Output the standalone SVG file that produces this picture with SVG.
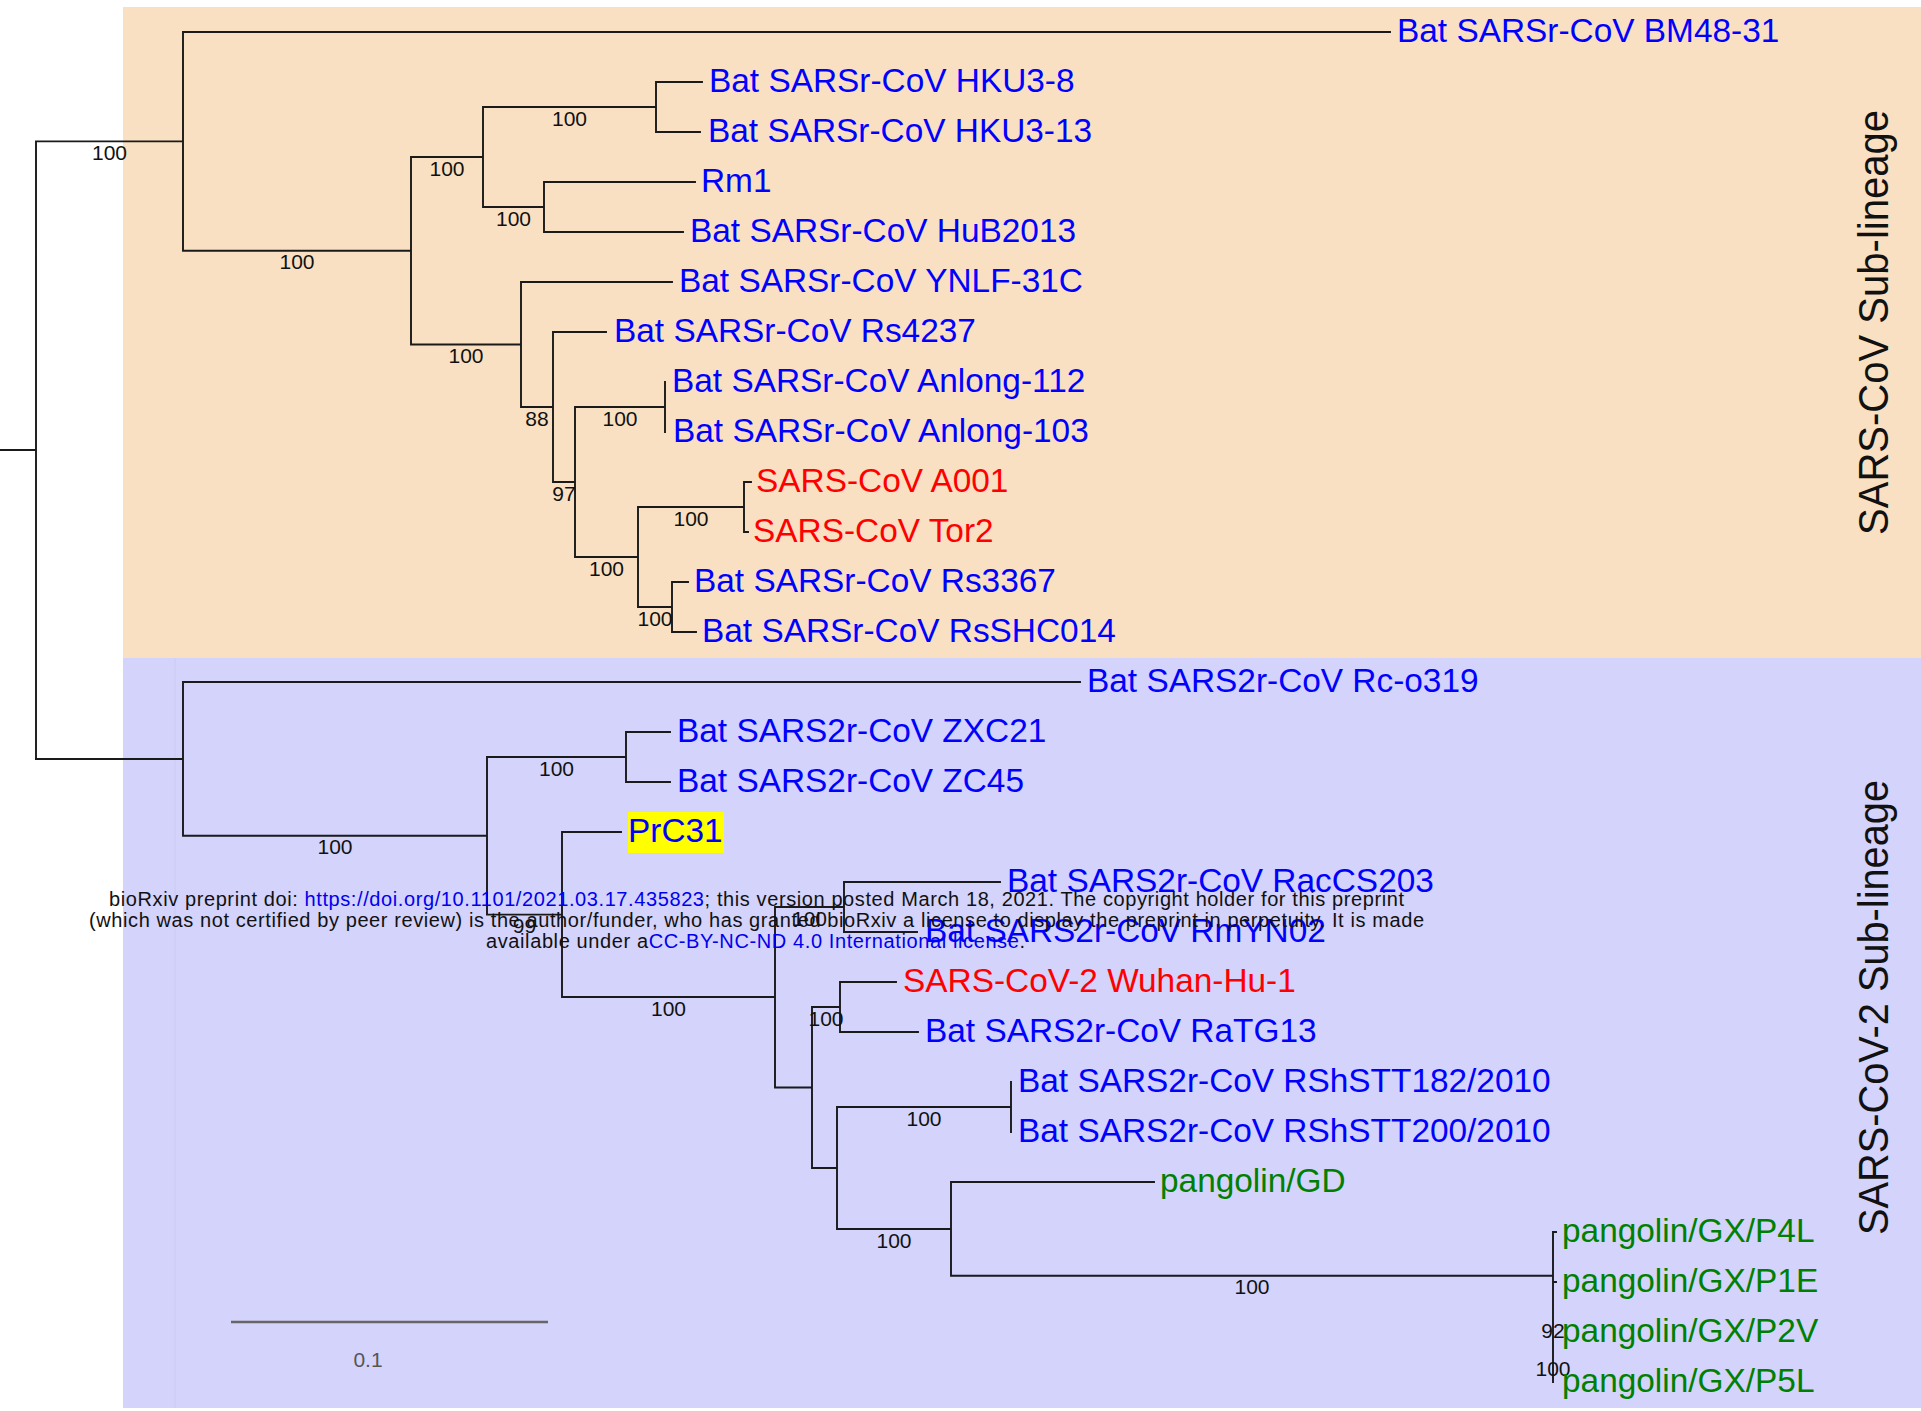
<svg xmlns="http://www.w3.org/2000/svg" width="1921" height="1411" viewBox="0 0 1921 1411">
<style>
.br{fill:none;stroke:#1a1a1a;stroke-width:1.9;stroke-linecap:square}
.lf{font-family:"Liberation Sans",Arial,sans-serif;font-size:33.4px}
.b{fill:#0000ff}.r{fill:#ff0000}.g{fill:#008000}
.bs{font-family:"Liberation Sans",Arial,sans-serif;font-size:21px;fill:#111;text-anchor:middle}
.side{font-family:"Liberation Sans",Arial,sans-serif;font-size:43px;fill:#111;text-anchor:middle}
.wm{font-family:"Liberation Sans",Arial,sans-serif;font-size:20px;fill:#111;text-anchor:middle}
.lk{fill:#0000ee}
</style>
<rect width="1921" height="1411" fill="#ffffff"/>
<g id="bg">
<rect x="123" y="7" width="1798" height="651" fill="#f9e0c2"/>
<rect x="123" y="658" width="1798" height="750" fill="#d3d3fb"/>
<line x1="175" y1="658" x2="175" y2="1408" stroke="#cacaf4" stroke-width="1"/>
</g>
<g id="connectors" class="br">
<path d="M0,450H36M36,141.4V759M36,141.4H183M183,32V250.75M183,32H1390M183,250.75H411M411,157V344.5M411,157H483M483,107V207M483,107H656M656,82V132M656,82H702M656,132H700M483,207H544M544,182V232M544,182H695M544,232H683M411,344.5H521M521,282V407M521,282H672M521,407H553M553,332V482M553,332H606M553,482H575M575,407V557M575,407H665M665,382V432M575,557H638M638,507V607M638,507H744M744,482V532M744,482H751M744,532H748M638,607H672M672,582V632M672,582H688M672,632H696"/>
<path d="M36,759H183M183,682V835.8M183,682H1080M183,835.8H487M487,757V914.6M487,757H626M626,732V782M626,732H670M626,782H670M487,914.6H562M562,832V997M562,832H621M562,997H775M775,907V1087.5M775,907H844M844,882V932M844,882H1000M844,932H917M775,1087.5H812M812,1007V1168M812,1007H840M840,982V1032M840,982H896M840,1032H918M812,1168H837M837,1107V1229M837,1107H1011M1011,1082V1132M837,1229H951M951,1182V1275.75M951,1182H1154M951,1275.75H1553M1553,1232V1382M1553,1232H1556M1553,1282H1556"/>
</g>
<g id="bootstrap">
<text class="bs" x="109.5" y="160">100</text>
<text class="bs" x="297" y="269">100</text>
<text class="bs" x="447" y="175.5">100</text>
<text class="bs" x="569.5" y="125.5">100</text>
<text class="bs" x="513.5" y="225.5">100</text>
<text class="bs" x="466" y="363">100</text>
<text class="bs" x="537" y="425.5">88</text>
<text class="bs" x="564" y="500.5">97</text>
<text class="bs" x="620" y="425.5">100</text>
<text class="bs" x="606.5" y="575.5">100</text>
<text class="bs" x="691" y="525.5">100</text>
<text class="bs" x="655" y="625.5">100</text>
<text class="bs" x="335" y="854.3">100</text>
<text class="bs" x="556.5" y="775.5">100</text>
<text class="bs" x="524.5" y="933">99</text>
<text class="bs" x="668.5" y="1015.5">100</text>
<text class="bs" x="809.5" y="925.5">100</text>
<text class="bs" x="826" y="1025.5">100</text>
<text class="bs" x="924" y="1125.5">100</text>
<text class="bs" x="894" y="1247.5">100</text>
<text class="bs" x="1252" y="1294">100</text>
<text class="bs" x="1553" y="1338">92</text>
<text class="bs" x="1553" y="1375.5">100</text>
</g>
<g id="n-BM48-31"><text class="lf b" x="1397" y="41.5">Bat SARSr-CoV BM48-31</text></g>
<g id="n-HKU3-8"><text class="lf b" x="709" y="91.5">Bat SARSr-CoV HKU3-8</text></g>
<g id="n-HKU3-13"><text class="lf b" x="708" y="141.5">Bat SARSr-CoV HKU3-13</text></g>
<g id="n-Rm1"><text class="lf b" x="701" y="191.5">Rm1</text></g>
<g id="n-HuB2013"><text class="lf b" x="690" y="241.5">Bat SARSr-CoV HuB2013</text></g>
<g id="n-YNLF-31C"><text class="lf b" x="679" y="291.5">Bat SARSr-CoV YNLF-31C</text></g>
<g id="n-Rs4237"><text class="lf b" x="614" y="341.5">Bat SARSr-CoV Rs4237</text></g>
<g id="n-Anlong-112"><text class="lf b" x="672" y="391.5">Bat SARSr-CoV Anlong-112</text></g>
<g id="n-Anlong-103"><text class="lf b" x="673" y="441.5">Bat SARSr-CoV Anlong-103</text></g>
<g id="n-A001"><text class="lf r" x="756" y="491.5">SARS-CoV A001</text></g>
<g id="n-Tor2"><text class="lf r" x="753" y="541.5">SARS-CoV Tor2</text></g>
<g id="n-Rs3367"><text class="lf b" x="694" y="591.5">Bat SARSr-CoV Rs3367</text></g>
<g id="n-RsSHC014"><text class="lf b" x="702" y="641.5">Bat SARSr-CoV RsSHC014</text></g>
<g id="n-Rc-o319"><text class="lf b" x="1087" y="691.5">Bat SARS2r-CoV Rc-o319</text></g>
<g id="n-ZXC21"><text class="lf b" x="677" y="741.5">Bat SARS2r-CoV ZXC21</text></g>
<g id="n-ZC45"><text class="lf b" x="677" y="791.5">Bat SARS2r-CoV ZC45</text></g>
<g id="n-PrC31"><rect x="628" y="812" width="96" height="41" fill="#ffff00"/><text class="lf b" x="628" y="841.5">PrC31</text></g>
<g id="n-RacCS203"><text class="lf b" x="1007" y="891.5">Bat SARS2r-CoV RacCS203</text></g>
<g id="n-RmYN02"><text class="lf b" x="925" y="941.5">Bat SARS2r-CoV RmYN02</text></g>
<g id="n-Wuhan-Hu-1"><text class="lf r" x="903" y="991.5">SARS-CoV-2 Wuhan-Hu-1</text></g>
<g id="n-RaTG13"><text class="lf b" x="925" y="1041.5">Bat SARS2r-CoV RaTG13</text></g>
<g id="n-RShSTT182"><text class="lf b" x="1018" y="1091.5">Bat SARS2r-CoV RShSTT182/2010</text></g>
<g id="n-RShSTT200"><text class="lf b" x="1018" y="1141.5">Bat SARS2r-CoV RShSTT200/2010</text></g>
<g id="n-GD"><text class="lf g" x="1160" y="1191.5">pangolin/GD</text></g>
<g id="n-P4L"><text class="lf g" x="1562" y="1241.5">pangolin/GX/P4L</text></g>
<g id="n-P1E"><text class="lf g" x="1562" y="1291.5">pangolin/GX/P1E</text></g>
<g id="n-P2V"><text class="lf g" x="1562" y="1341.5">pangolin/GX/P2V</text></g>
<g id="n-P5L"><text class="lf g" x="1562" y="1391.5">pangolin/GX/P5L</text></g>
<g id="lineage-labels">
<text class="side" transform="translate(1888,322.5) rotate(-90)" textLength="425" lengthAdjust="spacingAndGlyphs">SARS-CoV Sub-lineage</text>
<text class="side" transform="translate(1888,1007.5) rotate(-90)" textLength="455" lengthAdjust="spacingAndGlyphs">SARS-CoV-2 Sub-lineage</text>
</g>
<g id="scale-bar">
<line x1="231" y1="1322" x2="548" y2="1322" stroke="#666" stroke-width="2.5"/>
<text x="368" y="1367" font-family="Liberation Sans, Arial, sans-serif" font-size="21" fill="#555" text-anchor="middle">0.1</text>
</g>
<g id="watermark">
<text class="wm" x="756.5" y="905.5" textLength="1295">bioRxiv preprint doi: <tspan class="lk">https://doi.org/10.1101/2021.03.17.435823</tspan>; this version posted March 18, 2021. The copyright holder for this preprint</text>
<text class="wm" x="756.5" y="926.5" textLength="1335">(which was not certified by peer review) is the author/funder, who has granted bioRxiv a license to display the preprint in perpetuity. It is made</text>
<text class="wm" x="755.5" y="947.5" textLength="539">available under a<tspan class="lk">CC-BY-NC-ND 4.0 International license</tspan>.</text>
</g>
</svg>
